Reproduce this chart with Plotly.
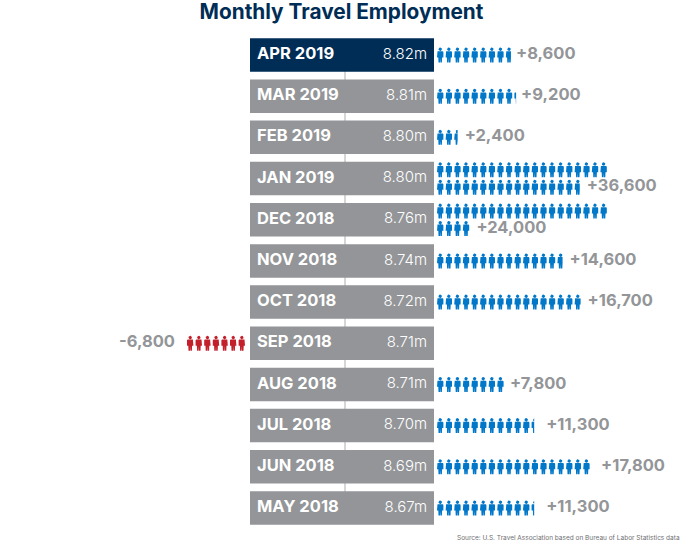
import plotly.graph_objects as go

months = ["APR 2019","MAR 2019","FEB 2019","JAN 2019","DEC 2018","NOV 2018","OCT 2018","SEP 2018","AUG 2018","JUL 2018","JUN 2018","MAY 2018"]
totals = [8.82,8.81,8.80,8.80,8.76,8.74,8.72,8.71,8.71,8.70,8.69,8.67]
changes = [8600,9200,2400,36600,24000,14600,16700,-6800,7800,11300,17800,11300]
label_gaps_px = [5,5,7,7,5,7,7,12,6,12,11,12]

W, H = 683, 543
PX_PER_ICON = 8.6
X0 = 437
ROW = 41.18
Y0 = 55
xr = [-X0/PX_PER_ICON, (W-X0)/PX_PER_ICON]
yr = [(H-Y0)/ROW, -Y0/ROW]
px_x = lambda p: (p-X0)/PX_PER_ICON
px_y = lambda p: p/ROW
GRAY = "#939598"; NAVY = "#002d56"; BLUE = "#0077c8"; RED = "#c4202b"
PER_ROW = 20
NEG0 = px_x(245)

body = [(0.5,3.7),(5.8,3.7),(6.4,4.5),(6.4,9.9),(5.1,9.9),(4.9,15),(3.4,15),(3.2,10.6),(3.0,15),(1.5,15),(1.3,9.9),(0,9.9),(0,4.5)]
head = [(3.2+1.75*c, 1.75+1.75*s) for c,s in [(1,0),(.87,.5),(.5,.87),(0,1),(-.5,.87),(-.87,.5),(-1,0),(-.87,-.5),(-.5,-.87),(0,-1),(.5,-.87),(.87,-.5)]]

def clip(poly, xmax):
    out = []
    for i,(a,b) in enumerate(poly):
        c,d = poly[(i+1)%len(poly)]
        if a <= xmax: out.append((a,b))
        if (a <= xmax) != (c <= xmax):
            t = (xmax-a)/(c-a); out.append((xmax, b+t*(d-b)))
    return out

def icons(i, v):
    n = abs(v)/1000
    xs, ys = [], []
    two = n > PER_ROW
    k = 0
    while k < n:
        frac = min(1, n-k)
        rowno = k // PER_ROW
        col = k % PER_ROW
        cy = (-8.7 + 17.4*rowno) if two else 0
        for poly in (head, body):
            pts = clip(poly, frac*PX_PER_ICON)
            if len(pts) < 3: continue
            for a,b in pts + pts[:1]:
                if v > 0:
                    xs.append(col + a/PX_PER_ICON)
                else:
                    xs.append(NEG0 - col - a/PX_PER_ICON)
                ys.append(i + (cy + b - 7.5)/ROW)
            xs.append(None); ys.append(None)
        k += 1
    return xs, ys

idx = list(range(len(months)))
fig = go.Figure()
fig.add_shape(type="line", x0=px_x(345), x1=px_x(345), y0=0, y1=11, xref="x", yref="y",
              line=dict(color="#c7c8ca", width=1.5), layer="below")
fig.add_trace(go.Bar(y=idx, x=[px_x(434)-px_x(250)]*12, base=px_x(250), orientation="h", width=33.5/ROW,
                     marker=dict(color=[NAVY]+[GRAY]*11, line=dict(width=0))))
for sign,color in ((1,BLUE),(-1,RED)):
    X,Y = [],[]
    for i,v in enumerate(changes):
        if v*sign > 0:
            a,b = icons(i,v); X+=a; Y+=b
    fig.add_trace(go.Scatter(x=X,y=Y,mode="lines",fill="toself",fillcolor=color,line=dict(width=0,color=color)))

bold = "Inter, 'Open Sans', sans-serif"
fig.add_trace(go.Scatter(x=[px_x(257)]*12,y=idx,mode="text",text=months,textposition="middle right",
                         textfont=dict(family=bold,size=16.5,weight=700,color="white")))
fig.add_trace(go.Scatter(x=[px_x(427)]*12,y=idx,mode="text",text=[f"{t:.2f}m" for t in totals],textposition="middle left",
                         textfont=dict(family=bold,size=15,weight=300,color="white")))
lx, ly, lt = [], [], []
for i,(v,g) in enumerate(zip(changes,label_gaps_px)):
    n = v/1000
    if v > 0:
        end = n if n <= PER_ROW else n-PER_ROW
        lx.append(end + g/PX_PER_ICON); ly.append(i + (8.7/ROW if n > PER_ROW else 0))
        lt.append(f"{v:+,}")
fig.add_trace(go.Scatter(x=lx,y=ly,mode="text",text=lt,textposition="middle right",
                         textfont=dict(family=bold,size=16.5,weight=700,color=GRAY)))
neg = [i for i,v in enumerate(changes) if v<0]
fig.add_trace(go.Scatter(x=[px_x(175)]*len(neg),y=neg,mode="text",text=[f"{changes[i]:,}" for i in neg],textposition="middle left",
                         textfont=dict(family=bold,size=16.5,weight=700,color=GRAY)))

fig.update_layout(width=W,height=H,margin=dict(l=0,r=0,t=0,b=0),autosize=False,showlegend=False,
    paper_bgcolor="white",plot_bgcolor="white",
    xaxis=dict(range=xr,visible=False,fixedrange=True),
    yaxis=dict(range=yr,visible=False,fixedrange=True),
    title=dict(text="Monthly Travel Employment",x=0.5,xanchor="center",y=1-12/H,yanchor="middle",
               font=dict(family=bold,size=20.8,weight=700,color=NAVY)),
    annotations=[dict(text="Source: U.S. Travel Association based on Bureau of Labor Statistics data",
        xref="paper",yref="paper",x=1-1/W,y=1-538/H,xanchor="right",yanchor="middle",showarrow=False,
        font=dict(family=bold,size=6.5,color="#6d6e71"))])
fig.write_html("out.html", config=dict(displayModeBar=False),
               post_script="document.body.style.margin='0';document.documentElement.style.overflow='hidden';")
